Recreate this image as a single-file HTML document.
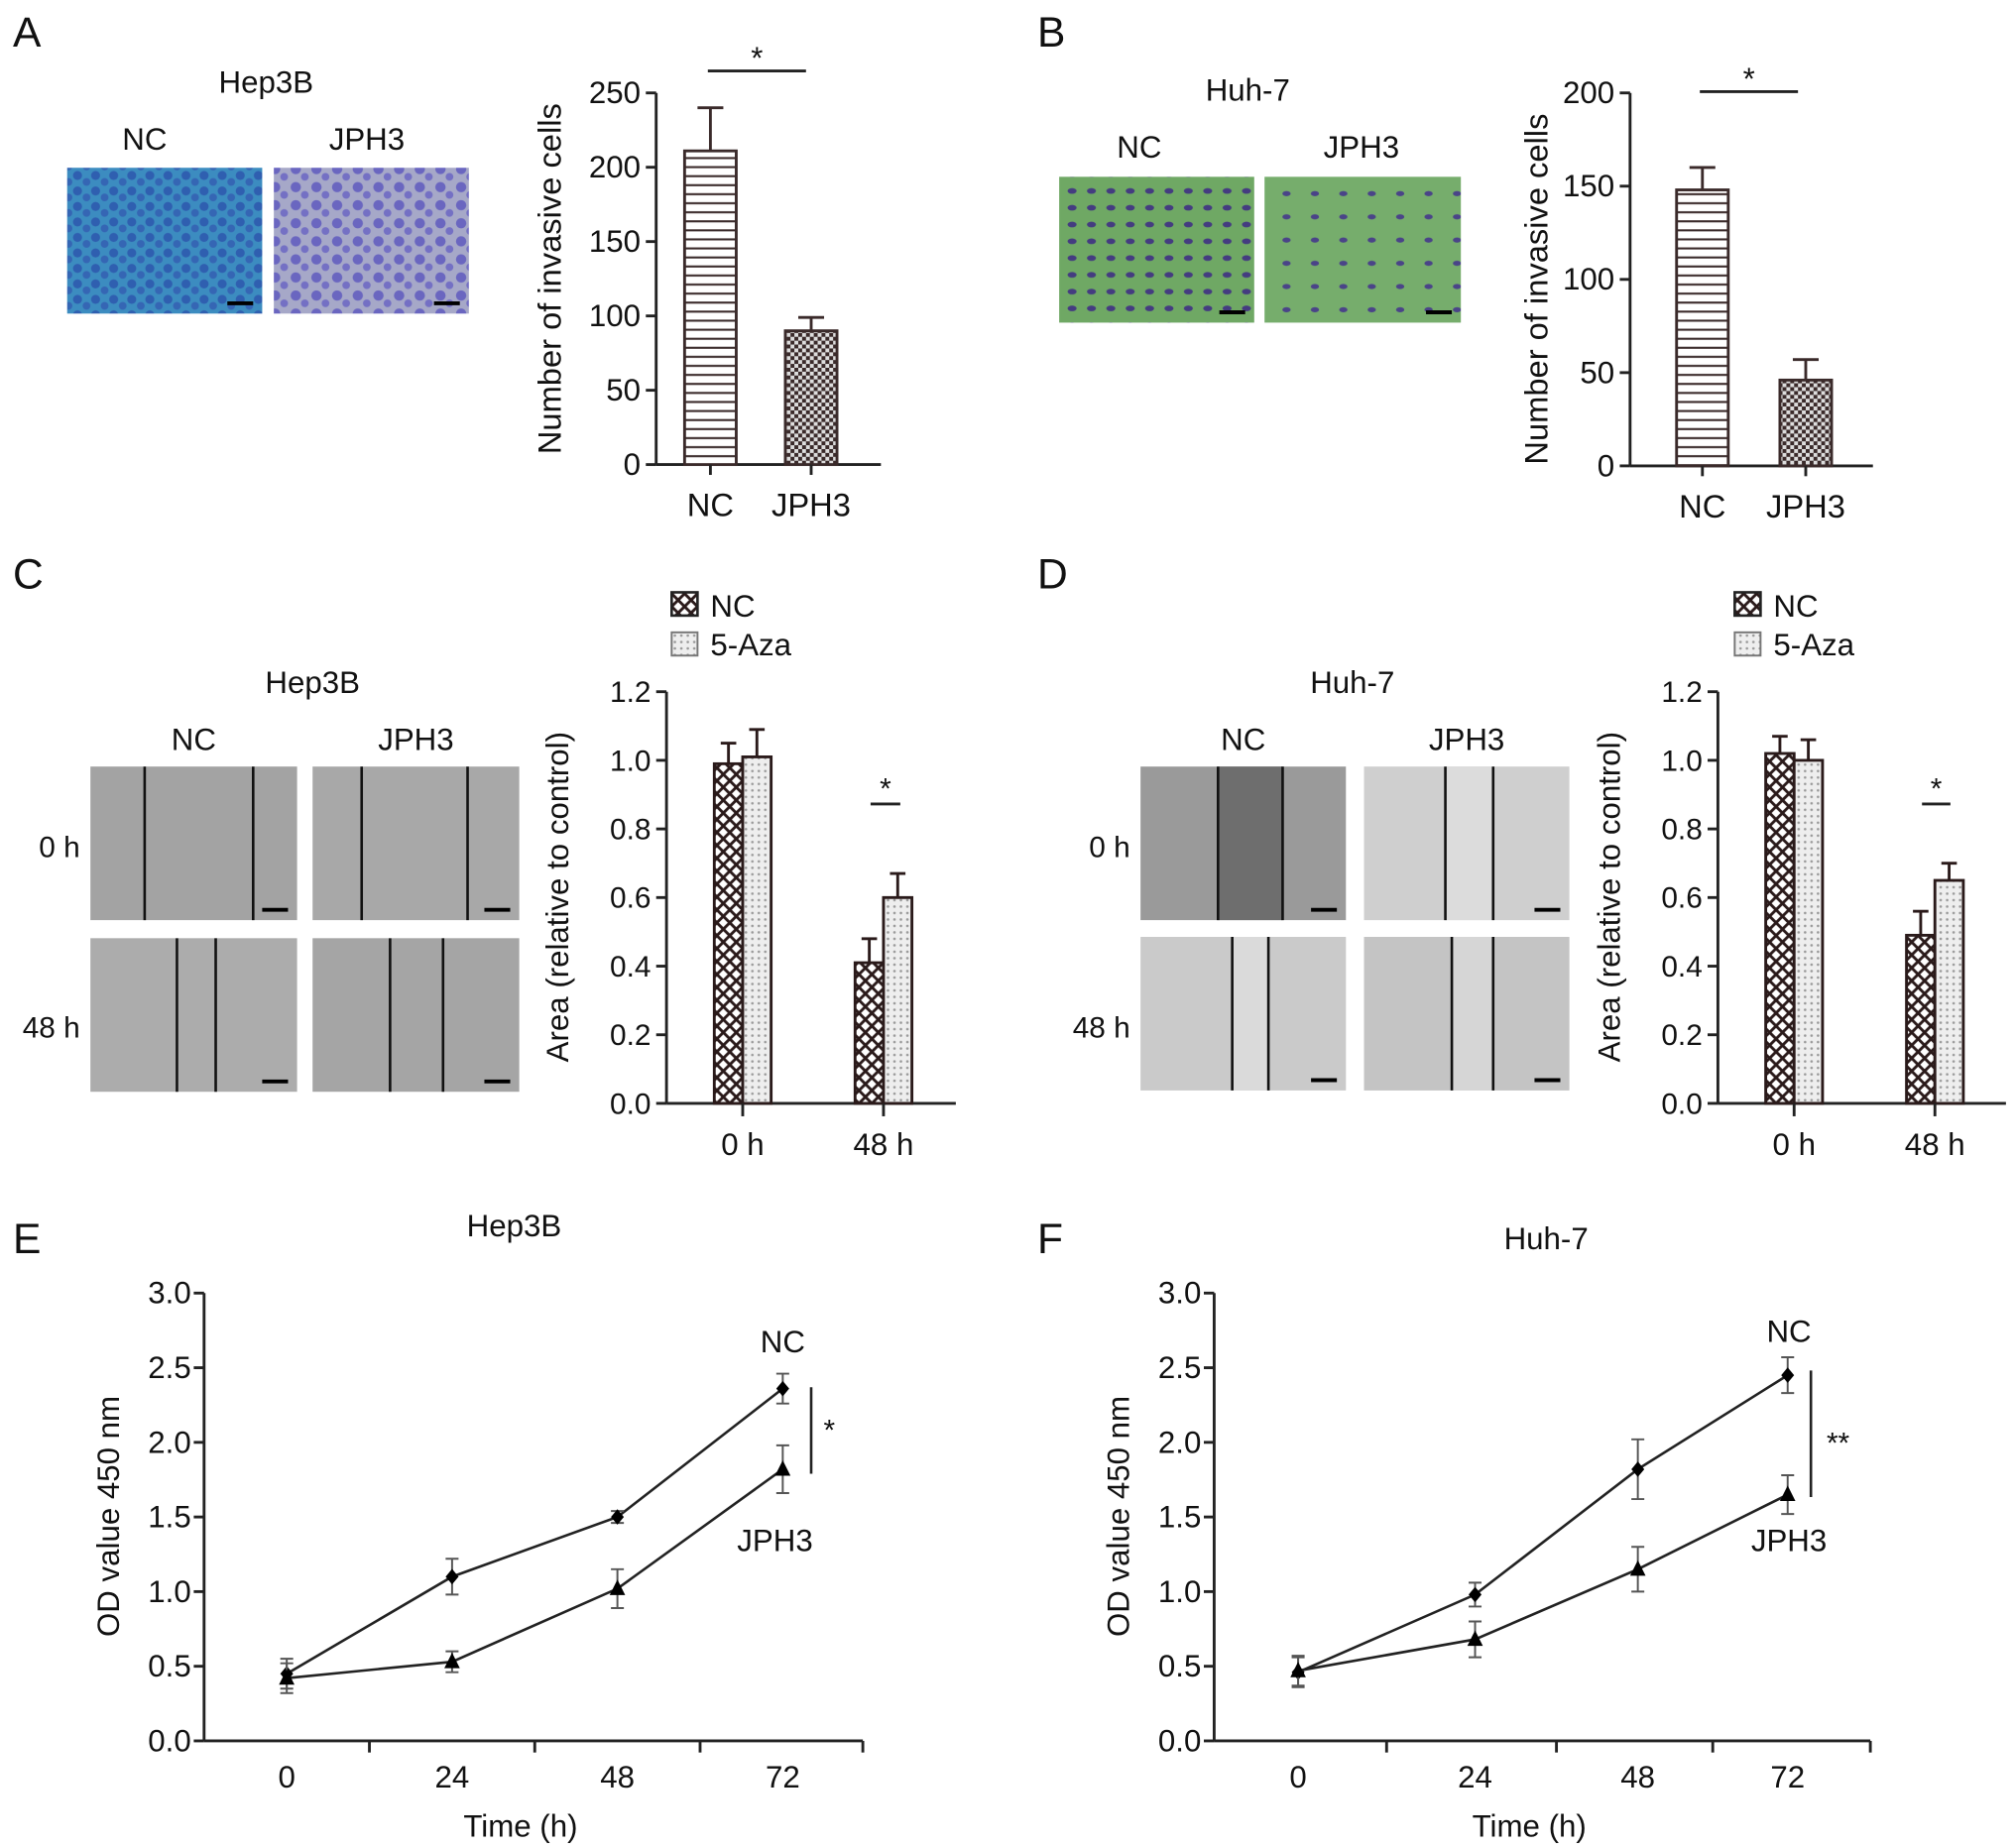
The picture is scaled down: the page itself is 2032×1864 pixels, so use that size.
<!DOCTYPE html>
<html><head><meta charset="utf-8"><style>
html,body{margin:0;padding:0;background:#fff;}
svg{display:block;font-family:"Liberation Sans",Arial,sans-serif;}
</style></head><body>
<svg id="fig" width="2032" height="1864" viewBox="0 0 1560 1432" preserveAspectRatio="none" xmlns="http://www.w3.org/2000/svg">
<defs>
<pattern id="hlines" width="8" height="7" patternUnits="userSpaceOnUse"><rect width="8" height="7" fill="#fff"/><line x1="0" y1="3.5" x2="8" y2="3.5" stroke="#3a2a2a" stroke-width="1.6"/></pattern>
<pattern id="checker" width="6" height="6" patternUnits="userSpaceOnUse"><rect width="6" height="6" fill="#ddd"/><rect width="3" height="3" fill="#3a2a2a"/><rect x="3" y="3" width="3" height="3" fill="#3a2a2a"/></pattern>
<pattern id="cross" width="10" height="10" patternUnits="userSpaceOnUse"><rect width="10" height="10" fill="#fff"/><path d="M0 0L10 10M10 0L0 10" stroke="#2a1a1a" stroke-width="2.2"/></pattern>
<pattern id="dots" width="5" height="5" patternUnits="userSpaceOnUse"><rect width="5" height="5" fill="#eee"/><circle cx="2.5" cy="2.5" r="1" fill="#999"/></pattern>
<pattern id="cellsBlue" width="14" height="12" patternUnits="userSpaceOnUse"><rect width="14" height="12" fill="#3c8cc0"/><circle cx="4" cy="4" r="3.5" fill="#2f5fb0"/><circle cx="11" cy="9" r="3" fill="#3566b4"/></pattern>
<pattern id="cellsLav" width="16" height="14" patternUnits="userSpaceOnUse"><rect width="16" height="14" fill="#a6a8c8"/><circle cx="5" cy="5" r="4" fill="#6a66c0"/><circle cx="12" cy="11" r="3" fill="#7470c4"/></pattern>
<pattern id="cellsGreen" width="15" height="13" patternUnits="userSpaceOnUse"><rect width="15" height="13" fill="#6fa864"/><ellipse cx="5" cy="5" rx="3.5" ry="2.2" fill="#443c80"/></pattern>
<pattern id="cellsGreen2" width="22" height="18" patternUnits="userSpaceOnUse"><rect width="22" height="18" fill="#76ad6c"/><ellipse cx="6" cy="6" rx="3.2" ry="2" fill="#4a4488"/></pattern>
</defs>
<g id="root"></g>
</svg>
<script>
// ---- Panel A data
const aCats=["NC","JPH3"];
const aVals=[211,90];
const aErr=[240,99];
const aTicks=[0,50,100,150,200,250];
// ---- Panel B data
const bCats=["NC","JPH3"];
const bVals=[148,46];
const bErr=[160,57];
const bTicks=[0,50,100,150,200];
// ---- Panel C data
const cCats=["0 h","48 h"];
const cNC=[0.99,0.41];
const cNCerr=[1.05,0.48];
const cAza=[1.01,0.60];
const cAzaErr=[1.09,0.67];
// ---- Panel D data
const dCats=["0 h","48 h"];
const dNC=[1.02,0.49];
const dNCerr=[1.07,0.56];
const dAza=[1.00,0.65];
const dAzaErr=[1.06,0.70];
const cdTicks=["0.0","0.2","0.4","0.6","0.8","1.0","1.2"];
// ---- Panel E data
const timeLabels=["0","24","48","72"];
const eNC=[0.45,1.10,1.50,2.36];
const eNCerr=[0.10,0.12,0.04,0.10];
const eJ=[0.42,0.53,1.02,1.82];
const eJerr=[0.10,0.07,0.13,0.16];
// ---- Panel F data
const fNC=[0.46,0.98,1.82,2.45];
const fNCerr=[0.10,0.08,0.20,0.12];
const fJ=[0.47,0.68,1.15,1.65];
const fJerr=[0.10,0.12,0.15,0.13];
const efTicks=["0.0","0.5","1.0","1.5","2.0","2.5","3.0"];

const NS="http://www.w3.org/2000/svg";
const root=document.getElementById('root');
const FS=1.09;
function mk(tag,attrs,parent,txt){const e=document.createElementNS(NS,tag);for(const k in attrs)e.setAttribute(k,attrs[k]);if(txt!==undefined)e.textContent=txt;(parent||root).appendChild(e);return e;}
function grp(name){const g=mk('g',{});return g;}
function txt(g,x,y,s,size,anchor,name,rot){const t=mk('text',{x:x,y:y,'font-size':(size*FS).toFixed(1),'text-anchor':anchor||'middle',fill:'#111'},g,s);if(rot)t.setAttribute('transform','rotate(-90 '+x+' '+y+')');return t;}
const SW=2.2, INK="#222";

// panel letters
[["A",10,36],["B",803,36],["C",10,456],["D",803,456],["E",10,971],["F",803,971]].forEach(l=>{const g=grp('panel-label-'+l[0]);txt(g,l[1],l[2],l[0],30,'start','panel-letter');});

function micro(g,x,y,w,h,fill,name){const r=mk('rect',{x:x,y:y,width:w,height:h,fill:fill},g);
 const s=mk('line',{x1:x+w-27,y1:y+h-8,x2:x+w-7,y2:y+h-8,stroke:'#000','stroke-width':3},g);}

// ---- invasion bar chart
function invChart(name,ax,y0,ytop,vmax,xEnd,cats,vals,errs,ticks,centers,sig,sigY){
 const g=grp(name);
 const ys=v=>y0-(v/vmax)*(y0-ytop);
 mk('line',{x1:ax,y1:y0,x2:ax,y2:ytop,stroke:INK,'stroke-width':SW},g);
 mk('line',{x1:ax,y1:y0,x2:xEnd,y2:y0,stroke:INK,'stroke-width':SW},g);
 ticks.forEach(t=>{mk('line',{x1:ax-8,y1:ys(t),x2:ax,y2:ys(t),stroke:INK,'stroke-width':SW},g);txt(g,ax-12,ys(t)+8,String(t),22,'end','y-tick-label');});
 const pats=['url(#hlines)','url(#checker)'];
 cats.forEach((c,i)=>{const cx=centers[i];
  mk('line',{x1:cx,y1:ys(vals[i]),x2:cx,y2:ys(errs[i]),stroke:'#3a2a2a','stroke-width':SW},g);
  mk('line',{x1:cx-10,y1:ys(errs[i]),x2:cx+10,y2:ys(errs[i]),stroke:'#3a2a2a','stroke-width':SW},g);
  const b=mk('rect',{x:cx-20,y:ys(vals[i]),width:40,height:y0-ys(vals[i]),fill:pats[i],stroke:'#3a2a2a','stroke-width':SW},g);
  
  mk('line',{x1:cx,y1:y0,x2:cx,y2:y0+8,stroke:INK,'stroke-width':SW},g);
  txt(g,cx,y0+40,c,23,'middle','x-tick-label');});
 mk('line',{x1:sig[0],y1:sigY,x2:sig[1],y2:sigY,stroke:INK,'stroke-width':SW},g);
 txt(g,(sig[0]+sig[1])/2,sigY-2,'*',22,'middle','significance-star');
 return g;}
const gA=invChart('chart-a-invasion',508,360,72,250,682,aCats,aVals,aErr,aTicks,[550,628],[548,624],55);
txt(gA,434,216,'Number of invasive cells',23,'middle','y-axis-title',true);
const gB=invChart('chart-b-invasion',1262,361,72,200,1450,bCats,bVals,bErr,bTicks,[1318,1398],[1316,1392],71);
txt(gB,1198,224,'Number of invasive cells',23,'middle','y-axis-title',true);

// micrographs A,B
const mA=grp('micrographs-a');txt(mA,206,72,'Hep3B',22,'middle','cell-line-title');txt(mA,112,116,'NC',22,'middle','column-label');txt(mA,284,116,'JPH3',22,'middle','column-label');
micro(mA,52,130,151,113,'url(#cellsBlue)','image-nc');micro(mA,212,130,151,113,'url(#cellsLav)','image-jph3');
const mB=grp('micrographs-b');txt(mB,966,78,'Huh-7',22,'middle','cell-line-title');txt(mB,882,122,'NC',22,'middle','column-label');txt(mB,1054,122,'JPH3',22,'middle','column-label');
micro(mB,820,137,151,113,'url(#cellsGreen)','image-nc');micro(mB,979,137,152,113,'url(#cellsGreen2)','image-jph3');

// ---- wound bar charts
function woundChart(name,ax,xEnd,cats,nc,ncE,az,azE,centers,sig,lx){
 const g=grp(name);const y0=855,ytop=536,vmax=1.2;const ys=v=>y0-(v/vmax)*(y0-ytop);
 mk('line',{x1:ax,y1:y0,x2:ax,y2:ytop,stroke:INK,'stroke-width':SW},g);
 mk('line',{x1:ax,y1:y0,x2:xEnd,y2:y0,stroke:INK,'stroke-width':SW},g);
 cdTicks.forEach(t=>{const v=parseFloat(t);mk('line',{x1:ax-8,y1:ys(v),x2:ax,y2:ys(v),stroke:INK,'stroke-width':SW},g);txt(g,ax-12,ys(v)+8,t,21,'end','y-tick-label');});
 cats.forEach((c,i)=>{const cx=centers[i];
  [[nc[i],ncE[i],cx-22,'url(#cross)','nc'],[az[i],azE[i],cx,'url(#dots)','5-aza']].forEach(s=>{
   const xm=s[2]+11;
   mk('line',{x1:xm,y1:ys(s[0]),x2:xm,y2:ys(s[1]),stroke:'#2a1a1a','stroke-width':SW},g);
   mk('line',{x1:xm-6,y1:ys(s[1]),x2:xm+6,y2:ys(s[1]),stroke:'#2a1a1a','stroke-width':SW},g);
   const b=mk('rect',{x:s[2],y:ys(s[0]),width:22,height:y0-ys(s[0]),fill:s[3],stroke:'#2a1a1a','stroke-width':SW},g);
   });
  mk('line',{x1:cx,y1:y0,x2:cx,y2:y0+10,stroke:INK,'stroke-width':SW},g);
  txt(g,cx,y0+40,c,22,'middle','x-tick-label');});
 mk('line',{x1:sig[0],y1:623,x2:sig[1],y2:623,stroke:INK,'stroke-width':SW},g);
 txt(g,(sig[0]+sig[1])/2,619,'*',21,'middle','significance-star');
 txt(g,ax-76,695,'Area (relative to control)',22,'middle','y-axis-title',true);
 const lg=mk('g',{},g);
 mk('rect',{x:lx,y:459,width:20,height:18,fill:'url(#cross)',stroke:'#222','stroke-width':2},lg);
 mk('rect',{x:lx,y:490,width:20,height:18,fill:'url(#dots)',stroke:'#777','stroke-width':1.5},lg);
 txt(lg,lx+30,478,'NC',22,'start','legend-entry-nc');txt(lg,lx+30,508,'5-Aza',22,'start','legend-entry-5aza');
 return g;}
woundChart('chart-c-wound',516,740,cCats,cNC,cNCerr,cAza,cAzaErr,[575,684],[674,697],520);
woundChart('chart-d-wound',1330,1553,dCats,dNC,dNCerr,dAza,dAzaErr,[1389,1498],[1488,1510],1343);

// wound micrographs
function woundImgs(name,title,tx,x1,x2,w,rows,lines){
 const g=grp(name);txt(g,tx,537,title,22,'middle','cell-line-title');
 txt(g,x1+w/2,581,'NC',22,'middle','column-label');txt(g,x2+w/2,581,'JPH3',22,'middle','column-label');
 txt(g,x1-8,664,'0 h',21,'end','row-label');txt(g,x1-8,804,'48 h',21,'end','row-label');
 const cols=[x1,x2];let k=0;
 rows.forEach((ry,ri)=>cols.forEach((cx,ci)=>{const L=lines[k++];
  micro(g,cx,ry[0],w,119,L[2],'scratch-image');
  if(L[3]){mk('rect',{x:cx+L[0],y:ry[0],width:L[1]-L[0],height:119,fill:L[3]},g);}
  [L[0],L[1]].forEach(lx=>mk('line',{x1:cx+lx,y1:ry[0],x2:cx+lx,y2:ry[0]+119,stroke:'#111','stroke-width':2},g));}));
 return g;}
woundImgs('wound-images-c','Hep3B',242,70,242,160,[[594],[727]],[[42,126,'#a3a3a3'],[38,120,'#a8a8a8'],[67,97,'#acacac'],[60,101,'#a5a5a5']]);
woundImgs('wound-images-d','Huh-7',1047,883,1056,159,[[594],[726]],[[60,110,'#9a9a9a','#6e6e6e'],[63,100,'#cfcfcf','#dcdcdc'],[71,99,'#cacaca','#dadada'],[68,100,'#c4c4c4','#d6d6d6']]);

// ---- line charts
function lineChart(name,ax,xEnd,xs,nc,ncE,jj,jjE,title,tpos,bx,b1,b2,star,ncL,jL){
 const g=grp(name);const y0=1349,ytop=1002;const ys=v=>y0-(v/3)*(y0-ytop);
 mk('line',{x1:ax,y1:y0,x2:ax,y2:ytop,stroke:INK,'stroke-width':SW},g);
 mk('line',{x1:ax,y1:y0,x2:xEnd,y2:y0,stroke:INK,'stroke-width':SW},g);
 efTicks.forEach(t=>{const v=parseFloat(t);mk('line',{x1:ax-8,y1:ys(v),x2:ax,y2:ys(v),stroke:INK,'stroke-width':SW},g);txt(g,ax-10,ys(v)+8,t,22,'end','y-tick-label');});
 for(let i=0;i<xs.length;i++){const tx=xs[i]+(xs[i+1]!==undefined?(xs[i+1]-xs[i])/2:(xEnd-xs[i]));mk('line',{x1:tx,y1:y0,x2:tx,y2:y0+9,stroke:INK,'stroke-width':SW},g);}
 timeLabels.forEach((l,i)=>txt(g,xs[i],y0+36,l,22,'middle','x-tick-label'));
 txt(g,(ax+xEnd)/2-10,y0+74,'Time (h)',22,'middle','x-axis-title');
 txt(g,ax-66,1175,'OD value 450 nm',22,'middle','y-axis-title',true);
 txt(g,tpos[0],tpos[1],title,22,'middle','chart-title');
 [[nc,ncE,'nc'],[jj,jjE,'jph3']].forEach(s=>{
  const pts=s[0].map((v,i)=>xs[i]+','+ys(v)).join(' ');
  const pl=mk('polyline',{points:pts,fill:'none',stroke:'#222','stroke-width':2},g);
  s[0].forEach((v,i)=>{const x=xs[i];
   mk('path',{d:`M${x} ${ys(v-s[1][i])}V${ys(v+s[1][i])}M${x-5} ${ys(v-s[1][i])}h10M${x-5} ${ys(v+s[1][i])}h10`,stroke:'#555','stroke-width':1.5,fill:'none'},g);
   let m;if(s[2]==='nc')m=mk('path',{d:`M${x} ${ys(v)-6}L${x+5} ${ys(v)}L${x} ${ys(v)+6}L${x-5} ${ys(v)}Z`,fill:'#000'},g);
   else m=mk('path',{d:`M${x} ${ys(v)-7}L${x+6} ${ys(v)+5}L${x-6} ${ys(v)+5}Z`,fill:'#000'},g);
   });});
 mk('line',{x1:bx,y1:b1,x2:bx,y2:b2,stroke:'#222','stroke-width':2},g);
 txt(g,star[0],star[1],star[2],21,'middle','significance-star');
 txt(g,ncL[0],ncL[1],'NC',22,'middle','series-label-nc');txt(g,jL[0],jL[1],'JPH3',22,'middle','series-label-jph3');
}
lineChart('chart-e-growth',158,668,[222,350,478,606],eNC,eNCerr,eJ,eJerr,'Hep3B',[398,958],628,1075,1142,[642,1116,'*'],[606,1048],[600,1202]);
lineChart('chart-f-growth',940,1448,[1005,1142,1268,1384],fNC,fNCerr,fJ,fJerr,'Huh-7',[1197,968],1402,1062,1160,[1423,1126,'**'],[1385,1040],[1385,1202]);
</script>
</body></html>
